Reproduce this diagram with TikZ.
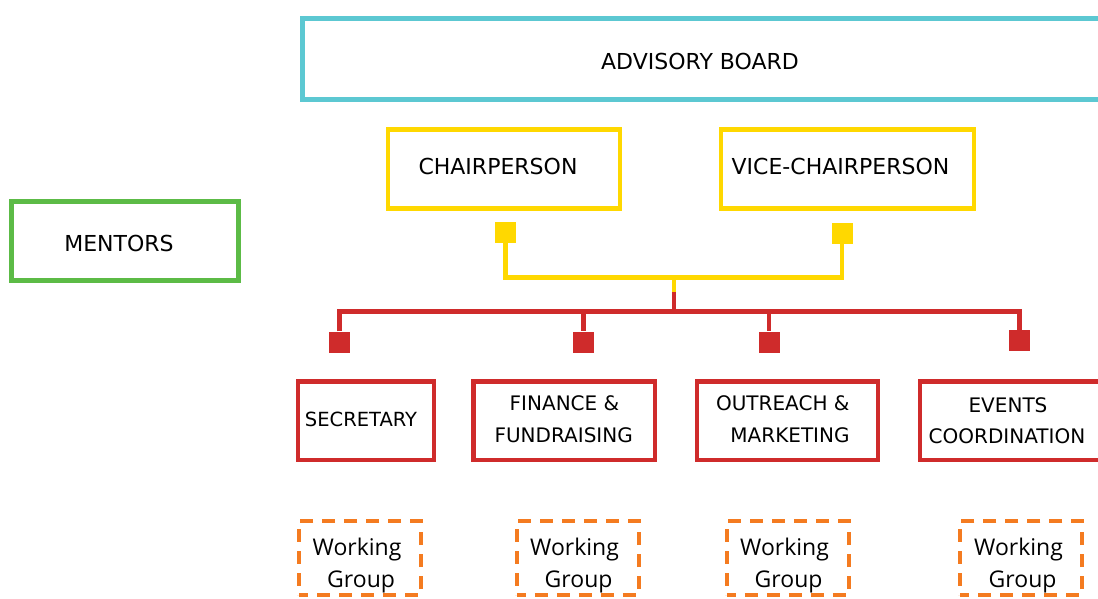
\documentclass[tikz,border=0pt]{standalone}
\usepackage{fontspec}
\setmainfont{DejaVu Sans}
\newfontfamily\wgfont{Open Sans}
\definecolor{bcyan}{HTML}{5CC8D2}
\definecolor{byellow}{HTML}{FFD800}
\definecolor{bred}{HTML}{CF2B2B}
\definecolor{bgreen}{HTML}{5CBB46}
\definecolor{borange}{HTML}{F47B20}
\begin{document}
\begin{tikzpicture}[x=1pt,y=-1pt,
  box/.style={draw, line width=4.5pt, inner sep=0pt},
  lbl/.style={inner sep=0pt, text=black, font=\fontsize{22}{26}\selectfont},
  rlbl/.style={inner sep=0pt, text=black, font=\fontsize{20}{24}\selectfont},
  wgbox/.style={draw=borange, line width=4pt, dash pattern=on 13pt off 9pt, dash phase=4pt, inner sep=0pt, minimum width=122pt, minimum height=74pt},
  wgt/.style={inner sep=0pt, anchor=base west, text=black, font=\wgfont\fontsize{23}{27}\selectfont},
  sq/.style={inner sep=0pt, minimum size=21pt},
  conn/.style={line width=4.5pt}
]
\useasboundingbox (0,0) rectangle (1098,599);
\clip (0,0) rectangle (1098,599);
\fill[white] (0,0) rectangle (1098,599);

% top level
\node[box, draw=bcyan, line width=5pt, minimum width=799.5pt, minimum height=81pt] (adv) at (702.25,59) {};
\node[lbl] (advT) at (700,61) {ADVISORY BOARD};

\node[box, draw=byellow, minimum width=232pt, minimum height=79pt] (chair) at (504,169) {};
\node[lbl] (chairT) at (498,166) {CHAIRPERSON};
\node[box, draw=byellow, minimum width=253pt, minimum height=79pt] (vice) at (847.5,169) {};
\node[lbl] (viceT) at (840.5,166) {VICE-CHAIRPERSON};

\node[box, draw=bgreen, line width=5pt, minimum width=227pt, minimum height=79.5pt] (ment) at (124.5,240.75) {};
\node[lbl] (mentT) at (119,243.3) {MENTORS};

% squares
\node[sq, fill=byellow] (chairSq) at (505.5,232.5) {};
\node[sq, fill=byellow] (viceSq) at (842,233.5) {};
\node[sq, fill=bred] (secSq) at (339.5,342) {};
\node[sq, fill=bred] (finSq) at (583.5,342) {};
\node[sq, fill=bred] (outSq) at (769,342) {};
\node[sq, fill=bred] (evSq) at (1019.5,340.5) {};

\coordinate (yhub) at (674,277.5);
\coordinate (ymid) at (674,292);
\coordinate (rhub) at (674,311.5);

\draw[conn, byellow] (chairSq.south) |- (yhub) -| (viceSq.south);
\draw[conn, byellow] (yhub) -- (ymid);
\draw[conn, bred] (ymid) -- (rhub);
\draw[conn, bred] (secSq.north) |- (rhub) -| (evSq.north);
\draw[conn, bred] (finSq.north |- rhub) -- (finSq.north);
\draw[conn, bred] (outSq.north |- rhub) -- (outSq.north);

% committee boxes
\node[box, draw=bred, minimum width=136pt, minimum height=78.5pt] (sec) at (366,420.5) {};
\node[inner sep=0pt, text=black, font=\fontsize{19.5}{23}\selectfont] (secT) at (361,419) {SECRETARY};
\node[box, draw=bred, minimum width=181.5pt, minimum height=78.5pt] (fin) at (564.25,420.5) {};
\node[rlbl] (finT1) at (564.5,403.3) {FINANCE \&};
\node[rlbl] (finT2) at (563.7,435) {FUNDRAISING};
\node[box, draw=bred, minimum width=181pt, minimum height=78.5pt] (out) at (787.5,420.5) {};
\node[rlbl] (outT1) at (782.8,403.3) {OUTREACH \&};
\node[rlbl] (outT2) at (790,435) {MARKETING};
\node[box, draw=bred, minimum width=182pt, minimum height=78.5pt] (ev) at (1011,420.5) {};
\node[rlbl] (evT1) at (1008,405) {EVENTS};
\node[rlbl] (evT2) at (1007,436.7) {COORDINATION};

% working groups
\node[wgbox] (wg1) at (360,558) {};
\node[wgbox] (wg2) at (577.75,558) {};
\node[wgbox] (wg3) at (787.75,558) {};
\node[wgbox] (wg4) at (1021.25,558) {};
\node[wgt] (wg1a) at (312.5,555.5) {Working};
\node[wgt] (wg1b) at (327,587.5) {Group};
\node[wgt] (wg2a) at (530,555.5) {Working};
\node[wgt] (wg2b) at (544.5,587.5) {Group};
\node[wgt] (wg3a) at (740,555.5) {Working};
\node[wgt] (wg3b) at (754.5,587.5) {Group};
\node[wgt] (wg4a) at (974,555.5) {Working};
\node[wgt] (wg4b) at (988.5,587.5) {Group};
\end{tikzpicture}
\end{document}
